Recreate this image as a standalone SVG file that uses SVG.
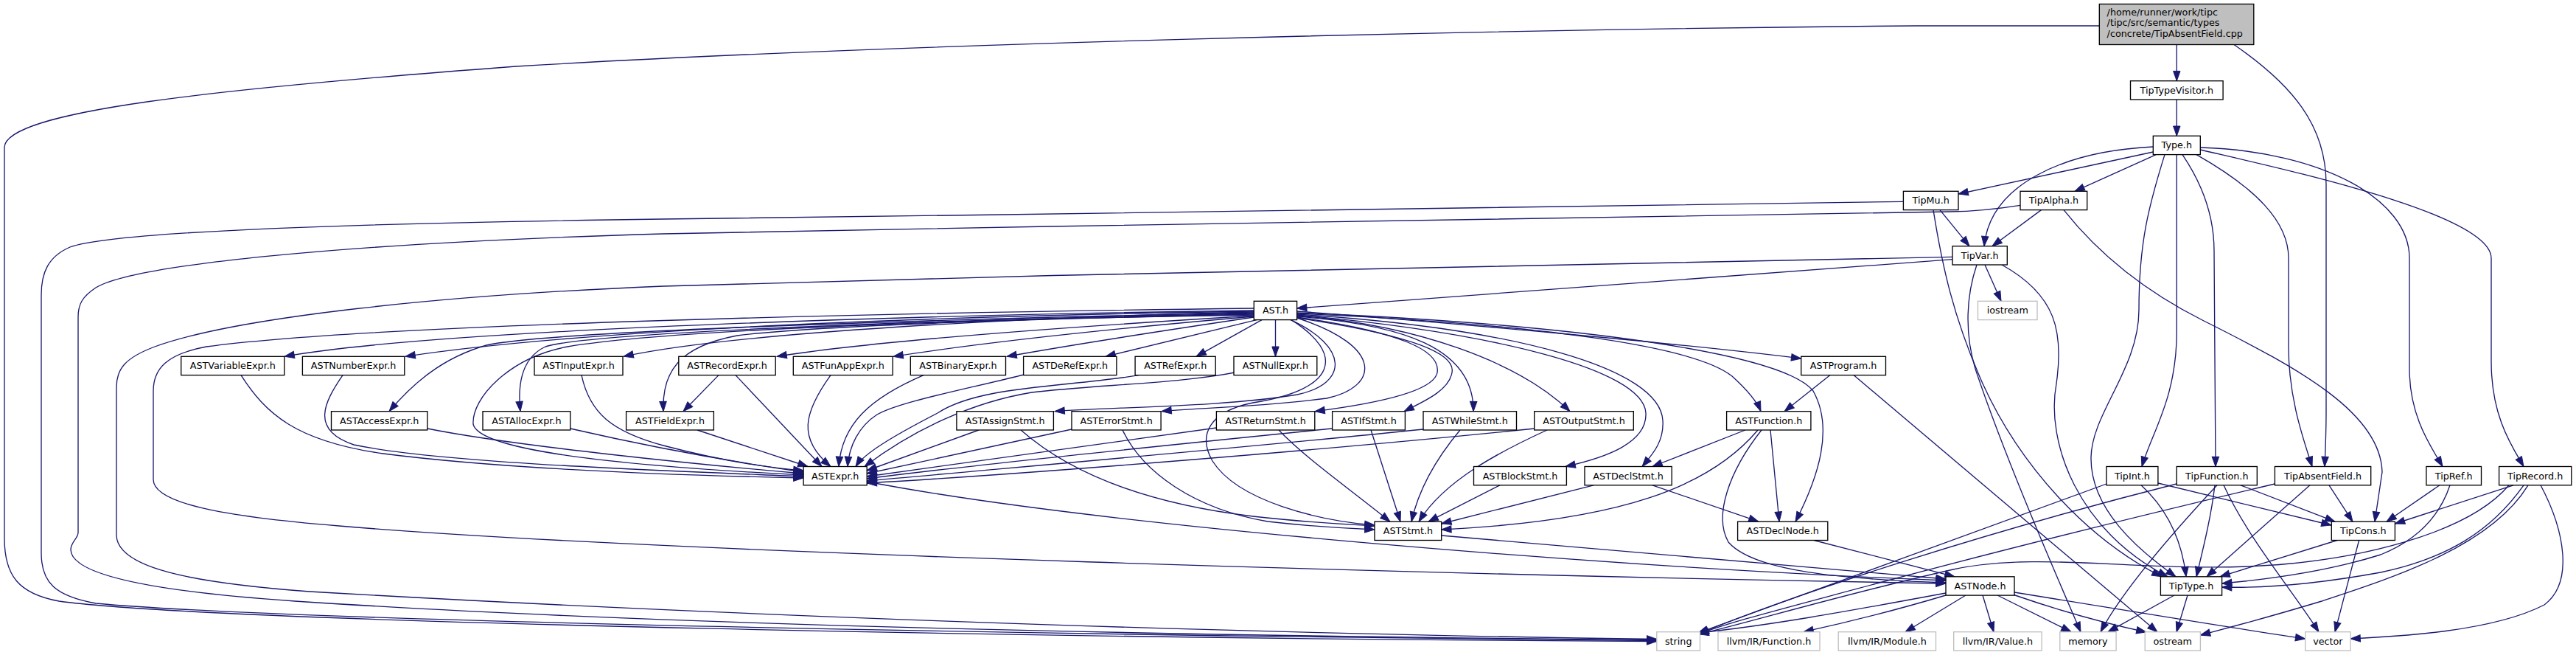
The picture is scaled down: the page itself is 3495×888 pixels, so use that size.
<svg xmlns="http://www.w3.org/2000/svg" width="3495" height="888" viewBox="0 0 3495 888">
<style>
.n rect{fill:#fff;stroke:#000;stroke-width:1.33}
.r rect{fill:#bfbfbf;stroke:#000;stroke-width:1.33}
.x rect{fill:#fff;stroke:#bfbfbf;stroke-width:1.33}
text{font-family:"DejaVu Sans",sans-serif;font-size:12.75px;fill:#000;text-anchor:middle}
.r text{text-anchor:start}
#edges path{fill:none;stroke:#191970;stroke-width:1.33;marker-end:url(#ah)}
</style>
<defs>
<marker id="ah" markerUnits="userSpaceOnUse" markerWidth="13.3" markerHeight="9.4" viewBox="0 0 13.3 9.4" refX="13.3" refY="4.7" orient="auto" style="overflow:visible">
<path d="M0,0 L13.3,4.7 L0,9.4 Z" fill="#191970" stroke="#191970" stroke-width="1"/>
</marker>
</defs>
<rect width="3495" height="888" fill="#fff"/>
<g id="edges">
<path d="M2953.3,60.5 L2953.3,109.7"/>
<path d="M2953.3,135 L2953.3,184.3"/>
<path d="M3031,60.5 C3110,115 3156,170 3156,250 L3156,560 C3156,590 3155,610 3154,632.5"/>
<path d="M2848.3,35 L2600,35 C2000,40 1200,60 700,90 C300,120 6,150 6,200 L6,730 C6,780 25,805 80,815 C300,845 1500,866 2247.8,869.5"/>
<path d="M2921.3,206 L2657,263"/>
<path d="M2925.3,209.6 L2815,259.3"/>
<path d="M2921.3,199 C2800,205 2700,250 2692,333.7"/>
<path d="M2953.3,209.6 L2953.3,450 C2953,540 2920,585 2906,632.5"/>
<path d="M2937,209.6 C2915,280 2902,330 2902,420 C2902,500 2838,560 2837,620 C2836,690 2900,745 2952,781.8"/>
<path d="M2961,209.6 C2985,245 3004,290 3004,340 L3006,632.5"/>
<path d="M2980,209.6 C3060,255 3105,300 3105,350 L3105,470 C3105,540 3125,595 3137,632.5"/>
<path d="M2985.3,200 C3150,205 3269,270 3269,350 L3269,500 C3269,565 3298,605 3314,632.5"/>
<path d="M2985.3,203 C3100,230 3380,290 3380,350 L3380,490 C3380,565 3408,605 3424,632.5"/>
<path d="M2632,284.6 L2672,333.7"/>
<path d="M2582.4,273.3 C2200,278 1500,290 900,297 C450,303 150,315 95,335 C65,348 56,370 56,400 L56,750 C56,790 75,808 130,818 C400,843 1500,862 2247.8,868.5"/>
<path d="M2623,284.6 C2635,360 2650,430 2690,520 C2740,630 2830,730 2933,781.8"/>
<path d="M2769.5,284.6 L2703,333.7"/>
<path d="M2741,278.3 C2705,284 2680,286.5 2645,287 C2200,293 1500,305 900,317 C450,330 180,360 130,390 C112,402 106,412 106,430 L106,722 C106,730 96,735 96,745 C96,775 180,800 400,815 C900,848 1600,862 2247.8,867.5"/>
<path d="M2800,284.6 C2840,335 2900,390 2990,435 C3120,500 3230,560 3232,640 L3222,707.2"/>
<path d="M2693,359 L2715,408.3"/>
<path d="M2649,351.7 L1759.6,418"/>
<path d="M2649,348.3 C2200,355 1500,370 900,388 C600,400 320,430 210,470 C170,485 158,500 158,525 L158,725 C158,770 260,790 420,802 C900,830 1600,858 2247.8,866.5"/>
<path d="M2716,359 C2790,400 2800,450 2790,520 C2775,600 2820,720 2941,781.8"/>
<path d="M2682,359 C2668,400 2665,450 2680,500 C2720,620 2790,780 2823,856.7"/>
<path d="M1701.3,421 C1300,426 600,445 386,483.3"/>
<path d="M1701.3,422 C1300,428 800,445 550,483.3"/>
<path d="M1701.3,423 C1400,430 1000,450 846,483.3"/>
<path d="M1701.3,424 C1300,432 750,448 660,468 C600,485 560,520 528,557.7"/>
<path d="M1701.3,425 C1300,433 800,450 740,470 C708,485 702,520 706,557.7"/>
<path d="M1701.3,426 C1400,432 1100,442 1000,455 C920,470 898,505 900,557.7"/>
<path d="M1701.3,427 C1300,433 900,448 770,470 C690,485 640,540 642,575 C650,612 850,632 1090,644"/>
<path d="M1701.3,428 C1500,440 1200,460 1054,483.3"/>
<path d="M1701.3,429 C1550,442 1350,462 1212,483.3"/>
<path d="M1701.3,430 C1600,445 1480,463 1366,483.3"/>
<path d="M1705,433.6 L1500,483.3"/>
<path d="M1712,433.6 L1623,483.3"/>
<path d="M1730.5,433.6 L1730.5,483.3"/>
<path d="M1751,433.6 C1830,470 1830,520 1760,535 C1660,552 1500,552 1431,557.7"/>
<path d="M1759.6,431 C1880,470 1870,525 1800,540 C1700,553 1620,553 1576,557.7"/>
<path d="M1759.6,430 C1900,450 1955,475 1950,505 C1945,532 1860,548 1784,557.7"/>
<path d="M1759.6,431 C1920,455 1975,480 1970,505 C1966,530 1930,545 1905,557.7"/>
<path d="M1759.6,429 C1900,440 2000,470 1999,557.7"/>
<path d="M1759.6,428 C1920,440 2060,490 2130,557.7"/>
<path d="M1759.6,427 C2020,450 2230,500 2233,560 C2235,600 2180,620 2124,632.5"/>
<path d="M1759.6,426 C2060,445 2252,500 2256,570 C2258,600 2240,618 2228,632.5"/>
<path d="M1759.6,425 C2100,440 2300,470 2350,510 C2372,530 2384,545 2389,557.7"/>
<path d="M1759.6,422 C2000,440 2300,468 2443.7,486"/>
<path d="M1759.6,424 C2150,440 2420,480 2460,530 C2488,580 2468,645 2436,707.2"/>
<path d="M1752,433.6 C1825,480 1815,528 1700,546 C1640,558 1625,590 1645,625 C1680,680 1790,706 1865,712"/>
<path d="M1701.3,418 C1200,424 500,440 280,470 C226,480 208,500 208,530 L208,650 C208,682 300,700 460,713 C900,750 2000,780 2640,791"/>
<path d="M327,508.6 C360,560 400,598 520,615 C700,638 950,645 1090,648"/>
<path d="M465,508.6 C440,545 420,583 480,603 C600,628 900,638 1090,646"/>
<path d="M579.8,581 C700,605 950,630 1090,642"/>
<path d="M773.8,581 C900,610 1000,627 1090,640"/>
<path d="M789,508.6 C800,560 830,585 900,604 C980,625 1040,634 1090,638"/>
<path d="M946,583 L1096,632.5"/>
<path d="M975,508.6 L927,557.7"/>
<path d="M998,508.6 L1115,632.5"/>
<path d="M1127,508.6 C1090,560 1082,595 1127,632.5"/>
<path d="M1253,508.6 C1180,540 1142,575 1138,632.5"/>
<path d="M1389,508 C1300,530 1220,545 1190,562 C1165,578 1152,605 1150,632.5"/>
<path d="M1545,508.6 C1450,525 1330,522 1272,560 C1210,592 1172,615 1161,632.5"/>
<path d="M1675,505 C1600,520 1480,522 1400,532 C1320,545 1240,582 1173,632.5"/>
<path d="M1328,583 L1176.2,638"/>
<path d="M1385,583 C1450,640 1550,682 1700,700 C1780,709 1830,711 1865,713"/>
<path d="M1454,582 L1176.2,642"/>
<path d="M1523,583 C1550,640 1620,690 1720,707 C1790,715 1840,717 1865,718"/>
<path d="M1650.4,580 L1176.2,646"/>
<path d="M1735,583 C1770,620 1830,662 1886,707.2"/>
<path d="M1807.6,581 C1600,602 1300,632 1176.2,649"/>
<path d="M1860,583 L1900,707.2"/>
<path d="M1931,582 C1700,606 1350,636 1176.2,652"/>
<path d="M1981,583 C1950,620 1925,662 1915,707.2"/>
<path d="M2082,581 C1800,610 1400,642 1176.2,655"/>
<path d="M2099,583 C2040,610 1960,650 1925,707.2"/>
<path d="M2035,657.8 L1938,707.2"/>
<path d="M2162,657.8 L1955.7,710"/>
<path d="M2242,657.8 L2386,707.2"/>
<path d="M2368,583 L2242,632.5"/>
<path d="M2385,583 C2320,660 2200,706 1955.7,718"/>
<path d="M2402,583 L2414,707.2"/>
<path d="M2390,583 C2345,640 2325,700 2345,735 C2380,775 2500,785 2640,790"/>
<path d="M2483,508.6 L2421,557.7"/>
<path d="M2515,508.6 L2927,856.7"/>
<path d="M1176.2,653 C1500,715 2200,770 2640,787"/>
<path d="M1955.7,726 L2640,785"/>
<path d="M2461,732.5 L2652,781.8"/>
<path d="M2640,804 C2500,830 2400,848 2304,858"/>
<path d="M2640,807 C2580,825 2500,845 2447,856.7"/>
<path d="M2667,807 L2585,856.7"/>
<path d="M2690,807 L2705,856.7"/>
<path d="M2710,807 L2810,856.7"/>
<path d="M2731,806 C2800,830 2870,848 2912,857"/>
<path d="M2733,803 C2900,830 3050,855 3127.7,866"/>
<path d="M2950,807 L2860,856.7"/>
<path d="M2968,807 L2953,856.7"/>
<path d="M2858,656 L2304,858"/>
<path d="M2905,657.8 C2940,690 2960,730 2966,781.8"/>
<path d="M2928,655 L3163,712"/>
<path d="M2953,656 C2700,720 2450,800 2305,859"/>
<path d="M3008,657.8 C2950,720 2880,800 2850,856.7"/>
<path d="M3005,657.8 C3000,700 2990,740 2980,781.8"/>
<path d="M3017,657.8 C3050,730 3110,800 3146,856.7"/>
<path d="M3040,657.8 L3168,707.2"/>
<path d="M3086.4,656 C2900,700 2700,750 2550,790 C2420,825 2340,845 2305,860"/>
<path d="M3134,657.8 L2994,781.8"/>
<path d="M3160,657.8 L3192,707.2"/>
<path d="M3310,657.8 L3238,707.2"/>
<path d="M3324,657.8 C3310,700 3280,732 3230,752 C3150,777 3060,787 3014.6,791"/>
<path d="M3410,657.8 L3249.4,710"/>
<path d="M3424,657.8 C3380,720 3320,757 3230,776 C3120,796 3050,797 3014.6,796"/>
<path d="M3430,657.8 C3380,740 3250,782 3150,815 C3060,842 3020,852 2985.4,861"/>
<path d="M3447,657.8 C3480,720 3492,790 3452,820 C3380,857 3250,863 3189,866"/>
<path d="M3404,657.8 C3350,722 3200,762 3050,768 C2900,774 2760,748 2650,772 C2500,806 2380,842 2305,860"/>
<path d="M3171,732.5 L3012,781.8"/>
<path d="M3200.6,732.5 L3168,856.7"/>
</g>
<g id="n_root" class="r"><rect x="2848.3" y="5.5" width="209.5" height="55"/><text x="2858.6" y="20.6">/home/runner/work/tipc</text><text x="2858.6" y="35.3">/tipc/src/semantic/types</text><text x="2858.6" y="50">/concrete/TipAbsentField.cpp</text></g>
<g id="n_tiptypevisitor" class="n"><rect x="2890.5" y="109.7" width="125.6" height="25.3"/><text x="2953.3" y="126.8">TipTypeVisitor.h</text></g>
<g id="n_type" class="n"><rect x="2921.3" y="184.3" width="64" height="25.3"/><text x="2953.3" y="201.4">Type.h</text></g>
<g id="n_tipmu" class="n"><rect x="2582.4" y="259.3" width="74.6" height="25.3"/><text x="2619.7" y="276.4">TipMu.h</text></g>
<g id="n_tipalpha" class="n"><rect x="2741" y="259.3" width="90.7" height="25.3"/><text x="2786.4" y="276.4">TipAlpha.h</text></g>
<g id="n_tipvar" class="n"><rect x="2649" y="333.7" width="74.3" height="25.3"/><text x="2686.2" y="350.8">TipVar.h</text></g>
<g id="n_ast" class="n"><rect x="1701.3" y="408.3" width="58.3" height="25.3"/><text x="1730.5" y="425.4">AST.h</text></g>
<g id="n_iostream" class="x"><rect x="2683.5" y="408.3" width="80.5" height="25.3"/><text x="2723.8" y="425.4">iostream</text></g>
<g id="n_astvariableexpr" class="n"><rect x="245.7" y="483.3" width="140.1" height="25.3"/><text x="315.8" y="500.4">ASTVariableExpr.h</text></g>
<g id="n_astnumberexpr" class="n"><rect x="410.4" y="483.3" width="138.4" height="25.3"/><text x="479.6" y="500.4">ASTNumberExpr.h</text></g>
<g id="n_astinputexpr" class="n"><rect x="725" y="483.3" width="120" height="25.3"/><text x="785" y="500.4">ASTInputExpr.h</text></g>
<g id="n_astrecordexpr" class="n"><rect x="920.8" y="483.3" width="131.4" height="25.3"/><text x="986.5" y="500.4">ASTRecordExpr.h</text></g>
<g id="n_astfunappexpr" class="n"><rect x="1076.3" y="483.3" width="134.9" height="25.3"/><text x="1143.8" y="500.4">ASTFunAppExpr.h</text></g>
<g id="n_astbinaryexpr" class="n"><rect x="1235.3" y="483.3" width="129.2" height="25.3"/><text x="1299.9" y="500.4">ASTBinaryExpr.h</text></g>
<g id="n_astderefexpr" class="n"><rect x="1388.6" y="483.3" width="126.3" height="25.3"/><text x="1451.8" y="500.4">ASTDeRefExpr.h</text></g>
<g id="n_astrefexpr" class="n"><rect x="1540.1" y="483.3" width="109.1" height="25.3"/><text x="1594.7" y="500.4">ASTRefExpr.h</text></g>
<g id="n_astnullexpr" class="n"><rect x="1674" y="483.3" width="112.8" height="25.3"/><text x="1730.4" y="500.4">ASTNullExpr.h</text></g>
<g id="n_astprogram" class="n"><rect x="2443.7" y="483.3" width="114.8" height="25.3"/><text x="2501.1" y="500.4">ASTProgram.h</text></g>
<g id="n_astaccessexpr" class="n"><rect x="449.5" y="557.7" width="130.3" height="25.3"/><text x="514.7" y="574.8">ASTAccessExpr.h</text></g>
<g id="n_astallocexpr" class="n"><rect x="655" y="557.7" width="118.8" height="25.3"/><text x="714.4" y="574.8">ASTAllocExpr.h</text></g>
<g id="n_astfieldexpr" class="n"><rect x="849.6" y="557.7" width="118.8" height="25.3"/><text x="909" y="574.8">ASTFieldExpr.h</text></g>
<g id="n_astassignstmt" class="n"><rect x="1297.9" y="557.7" width="131.5" height="25.3"/><text x="1363.7" y="574.8">ASTAssignStmt.h</text></g>
<g id="n_asterrorstmt" class="n"><rect x="1454" y="557.7" width="121.1" height="25.3"/><text x="1514.6" y="574.8">ASTErrorStmt.h</text></g>
<g id="n_astreturnstmt" class="n"><rect x="1650.4" y="557.7" width="133.4" height="25.3"/><text x="1717.1" y="574.8">ASTReturnStmt.h</text></g>
<g id="n_astifstmt" class="n"><rect x="1807.6" y="557.7" width="98.8" height="25.3"/><text x="1857" y="574.8">ASTIfStmt.h</text></g>
<g id="n_astwhilestmt" class="n"><rect x="1931" y="557.7" width="126.5" height="25.3"/><text x="1994.3" y="574.8">ASTWhileStmt.h</text></g>
<g id="n_astoutputstmt" class="n"><rect x="2081.7" y="557.7" width="134.6" height="25.3"/><text x="2149" y="574.8">ASTOutputStmt.h</text></g>
<g id="n_astfunction" class="n"><rect x="2342.6" y="557.7" width="114.3" height="25.3"/><text x="2399.8" y="574.8">ASTFunction.h</text></g>
<g id="n_astexpr" class="n"><rect x="1090.1" y="632.5" width="86.1" height="25.3"/><text x="1133.2" y="649.6">ASTExpr.h</text></g>
<g id="n_astblockstmt" class="n"><rect x="1999.5" y="632.5" width="125.9" height="25.3"/><text x="2062.5" y="649.6">ASTBlockStmt.h</text></g>
<g id="n_astdeclstmt" class="n"><rect x="2150" y="632.5" width="118.2" height="25.3"/><text x="2209.1" y="649.6">ASTDeclStmt.h</text></g>
<g id="n_tipint" class="n"><rect x="2857.9" y="632.5" width="70" height="25.3"/><text x="2892.9" y="649.6">TipInt.h</text></g>
<g id="n_tipfunction" class="n"><rect x="2953.2" y="632.5" width="109.1" height="25.3"/><text x="3007.8" y="649.6">TipFunction.h</text></g>
<g id="n_tipabsentfield" class="n"><rect x="3086.4" y="632.5" width="130.3" height="25.3"/><text x="3151.6" y="649.6">TipAbsentField.h</text></g>
<g id="n_tipref" class="n"><rect x="3291.9" y="632.5" width="74.6" height="25.3"/><text x="3329.2" y="649.6">TipRef.h</text></g>
<g id="n_tiprecord" class="n"><rect x="3390.6" y="632.5" width="98.2" height="25.3"/><text x="3439.7" y="649.6">TipRecord.h</text></g>
<g id="n_aststmt" class="n"><rect x="1865" y="707.2" width="90.7" height="25.3"/><text x="1910.4" y="724.3">ASTStmt.h</text></g>
<g id="n_astdeclnode" class="n"><rect x="2357.6" y="707.2" width="122.2" height="25.3"/><text x="2418.7" y="724.3">ASTDeclNode.h</text></g>
<g id="n_tipcons" class="n"><rect x="3163.3" y="707.2" width="86.1" height="25.3"/><text x="3206.4" y="724.3">TipCons.h</text></g>
<g id="n_astnode" class="n"><rect x="2640" y="781.8" width="93" height="25.3"/><text x="2686.5" y="798.9">ASTNode.h</text></g>
<g id="n_tiptype" class="n"><rect x="2931.4" y="781.8" width="83.2" height="25.3"/><text x="2973" y="798.9">TipType.h</text></g>
<g id="n_string" class="x"><rect x="2247.8" y="856.7" width="58.7" height="25.3"/><text x="2277.2" y="873.8">string</text></g>
<g id="n_llvmfunction" class="x"><rect x="2331" y="856.7" width="138" height="25.3"/><text x="2400" y="873.8">llvm/IR/Function.h</text></g>
<g id="n_llvmmodule" class="x"><rect x="2494.2" y="856.7" width="132.3" height="25.3"/><text x="2560.4" y="873.8">llvm/IR/Module.h</text></g>
<g id="n_llvmvalue" class="x"><rect x="2650.7" y="856.7" width="119.4" height="25.3"/><text x="2710.4" y="873.8">llvm/IR/Value.h</text></g>
<g id="n_memory" class="x"><rect x="2794.8" y="856.7" width="76.3" height="25.3"/><text x="2833" y="873.8">memory</text></g>
<g id="n_ostream" class="x"><rect x="2910.2" y="856.7" width="75.2" height="25.3"/><text x="2947.8" y="873.8">ostream</text></g>
<g id="n_vector" class="x"><rect x="3127.7" y="856.7" width="61.4" height="25.3"/><text x="3158.4" y="873.8">vector</text></g>
</svg>
